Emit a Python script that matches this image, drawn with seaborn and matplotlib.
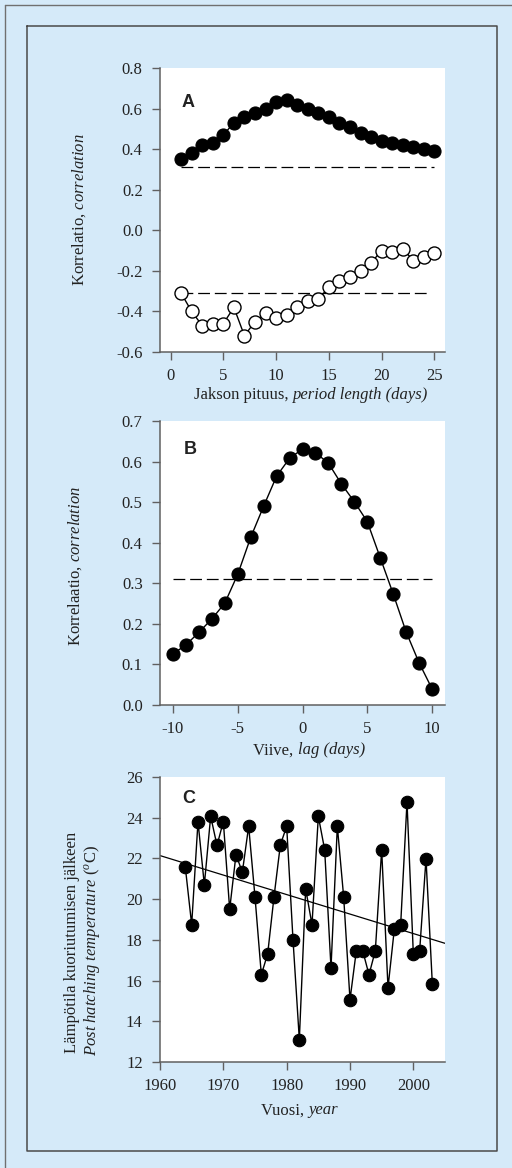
import matplotlib
matplotlib.use("Agg")
import matplotlib.pyplot as plt
import seaborn as sns
from matplotlib.lines import Line2D
from matplotlib.offsetbox import TextArea, HPacker, AnnotationBbox

# ---------------- data ----------------
period_days = list(range(1, 26))
corr_positive = [0.35, 0.38, 0.42, 0.43, 0.47, 0.53, 0.56, 0.58, 0.60, 0.63,
                 0.64, 0.62, 0.60, 0.58, 0.56, 0.53, 0.51, 0.48, 0.46, 0.44,
                 0.43, 0.42, 0.41, 0.40, 0.39]
corr_negative = [-0.31, -0.40, -0.47, -0.46, -0.46, -0.38, -0.52, -0.45, -0.41, -0.43,
                 -0.42, -0.38, -0.35, -0.34, -0.28, -0.25, -0.23, -0.20, -0.16, -0.10,
                 -0.105, -0.09, -0.15, -0.13, -0.11]
sig_level = 0.31
sig_range_a_upper = [1, 25]
sig_range_a_lower = [1, 24.4]

lag_days = list(range(-10, 11))
corr_lag = [0.126, 0.148, 0.179, 0.212, 0.251, 0.322, 0.413, 0.490, 0.564, 0.608,
            0.631, 0.622, 0.596, 0.545, 0.501, 0.452, 0.363, 0.274, 0.180, 0.104, 0.040]
sig_range_b = [-10, 10]

years = list(range(1964, 2004))
temperature = [21.56, 18.75, 23.81, 20.70, 24.07, 22.64, 23.81, 19.50, 22.19, 21.32,
               23.58, 20.11, 16.29, 17.31, 20.11, 22.66, 23.58, 18.01, 13.10, 20.50,
               18.75, 24.07, 22.43, 16.62, 23.58, 20.11, 15.06, 17.47, 17.47, 16.29,
               17.47, 22.43, 15.65, 18.53, 18.75, 24.77, 17.31, 17.47, 21.99, 15.83]
trend_years = [1960, 2005]
trend_temp = [22.14, 17.83]

ticks_a_x = [0, 5, 10, 15, 20, 25]
ticks_a_y = [-0.6, -0.4, -0.2, 0.0, 0.2, 0.4, 0.6, 0.8]
ticks_b_x = [-10, -5, 0, 5, 10]
ticks_b_y = [0.0, 0.1, 0.2, 0.3, 0.4, 0.5, 0.6, 0.7]
ticks_c_x = [1960, 1970, 1980, 1990, 2000]
ticks_c_y = [12, 14, 16, 18, 20, 22, 24, 26]

# ---------------- style ----------------
sns.set_theme(style="ticks")
BG = "#d5eaf9"
SPINE = "#606060"
TXT = "#222222"
FS = 12
plt.rcParams.update({
    "font.family": ["Liberation Serif", "DejaVu Serif"],
    "mathtext.fontset": "custom",
    "mathtext.rm": "Liberation Serif",
    "mathtext.it": "Liberation Serif:italic",
    "mathtext.bf": "Liberation Serif:bold",
    "axes.unicode_minus": False,
    "lines.scale_dashes": False,
    "font.size": FS,
    "xtick.labelsize": FS,
    "ytick.labelsize": FS,
    "axes.labelsize": FS,
    "text.color": TXT,
    "axes.labelcolor": TXT,
    "xtick.color": SPINE,
    "ytick.color": SPINE,
    "xtick.labelcolor": TXT,
    "ytick.labelcolor": TXT,
})

W, H = 512, 1168
fig = plt.figure(figsize=(W / 100, H / 100), dpi=100, facecolor=BG)


def px_x(v):
    return v / W


def px_y(v):
    return 1 - v / H


# frames
fig.add_artist(Line2D([px_x(5), px_x(5)], [0, px_y(5)], color="#707070", lw=1.0))
fig.add_artist(Line2D([px_x(5), 1], [px_y(5), px_y(5)], color="#707070", lw=1.0))
fig.add_artist(Line2D([px_x(26.5), px_x(497), px_x(497), px_x(26.5), px_x(26.5)],
                      [px_y(26), px_y(26), px_y(1151), px_y(1151), px_y(26)],
                      color="#4a4a4a", lw=1.1))

left, width = 160 / W, 285 / W
axA = fig.add_axes([left, 1 - 352 / H, width, 284 / H])
axB = fig.add_axes([left, 1 - 705 / H, width, 284 / H])
axC = fig.add_axes([left, 1 - 1062 / H, width, 285 / H])

dash = (0, (8.5, 3.5))
msz = 9.4


def mixed_xlabel(ax, plain, italic, x, y):
    t1 = TextArea(plain, textprops=dict(fontsize=FS, color=TXT, family="Liberation Serif"))
    t2 = TextArea(italic, textprops=dict(fontsize=FS, color=TXT, family="Liberation Serif",
                                         style="italic"))
    box = HPacker(children=[t1, t2], align="baseline", pad=0, sep=0)
    ab = AnnotationBbox(box, (x, y), xycoords=ax.transAxes, frameon=False,
                        box_alignment=(0.5, 0.5), pad=0, annotation_clip=False)
    ax.add_artist(ab)


# ---- Panel A ----
sns.lineplot(x=sig_range_a_upper, y=[sig_level] * 2, ax=axA, color="black",
             linewidth=0.9, linestyle=dash)
sns.lineplot(x=sig_range_a_lower, y=[-sig_level] * 2, ax=axA, color="black",
             linewidth=0.9, linestyle=dash)
sns.lineplot(x=period_days, y=corr_positive, ax=axA, color="black", linewidth=1.0,
             marker="o", markersize=msz, markerfacecolor="black",
             markeredgecolor="black", markeredgewidth=0.8)
sns.lineplot(x=period_days, y=corr_negative, ax=axA, color="black", linewidth=1.0,
             marker="o", markersize=msz, markerfacecolor="white",
             markeredgecolor="black", markeredgewidth=1.0)
axA.set_xlim(-1, 26)
axA.set_ylim(-0.6, 0.8)
axA.set_xticks(ticks_a_x)
axA.set_yticks(ticks_a_y)
axA.set_yticklabels([f"{t:.1f}" for t in ticks_a_y])
axA.set_xlabel("")
axA.set_ylabel(r"Korrelatio, $\mathit{correlation}$")
axA.yaxis.set_label_coords(-0.253, 0.5)
mixed_xlabel(axA, "Jakson pituus, ", "period length (days)", 0.53, -0.153)
axA.text(0.098, 0.88, "A", transform=axA.transAxes, ha="center", va="center",
         fontsize=13, fontweight="bold", family="Liberation Sans", color=TXT)

# ---- Panel B ----
sns.lineplot(x=sig_range_b, y=[sig_level] * 2, ax=axB, color="black",
             linewidth=0.9, linestyle=dash)
sns.lineplot(x=lag_days, y=corr_lag, ax=axB, color="black", linewidth=1.0,
             marker="o", markersize=msz, markerfacecolor="black",
             markeredgecolor="black", markeredgewidth=0.8)
axB.set_xlim(-11, 11)
axB.set_ylim(0.0, 0.7)
axB.set_xticks(ticks_b_x)
axB.set_xticklabels([str(t) for t in ticks_b_x])
axB.set_yticks(ticks_b_y)
axB.set_yticklabels([f"{t:.1f}" for t in ticks_b_y])
axB.set_xlabel("")
axB.set_ylabel(r"Korrelaatio, $\mathit{correlation}$")
axB.yaxis.set_label_coords(-0.267, 0.49)
mixed_xlabel(axB, "Viive, ", "lag (days)", 0.523, -0.16)
axB.text(0.105, 0.90, "B", transform=axB.transAxes, ha="center", va="center",
         fontsize=13, fontweight="bold", family="Liberation Sans", color=TXT)

# ---- Panel C ----
sns.lineplot(x=trend_years, y=trend_temp, ax=axC, color="black", linewidth=0.9)
sns.lineplot(x=years, y=temperature, ax=axC, color="black", linewidth=1.0,
             marker="o", markersize=9.0, markerfacecolor="black",
             markeredgecolor="black", markeredgewidth=0.8)
axC.set_xlim(1960, 2005)
axC.set_ylim(12, 26)
axC.set_xticks(ticks_c_x)
axC.set_yticks(ticks_c_y)
axC.set_xlabel("")
axC.set_ylabel("")
mixed_xlabel(axC, "Vuosi, ", "year", 0.49, -0.17)
axC.text(-0.309, 0.418, "Lämpötila kuoriutumisen jälkeen", transform=axC.transAxes,
         rotation=90, ha="center", va="center", fontsize=FS)
axC.text(-0.239, 0.393, r"$\mathit{Post\ hatching\ temperature}$ ($^{o}$C)",
         transform=axC.transAxes, rotation=90, ha="center", va="center", fontsize=FS)
axC.text(0.10, 0.926, "C", transform=axC.transAxes, ha="center", va="center",
         fontsize=13, fontweight="bold", family="Liberation Sans", color=TXT)

for ax in (axA, axB, axC):
    ax.set_facecolor("white")
    for s in ("top", "right"):
        ax.spines[s].set_visible(False)
    for s in ("left", "bottom"):
        ax.spines[s].set_color(SPINE)
        ax.spines[s].set_linewidth(1.1)
    ax.tick_params(axis="both", direction="out", length=5.5, width=1.0)
    ax.tick_params(axis="x", pad=6)
    ax.tick_params(axis="y", pad=7)
    if ax.get_legend() is not None:
        ax.get_legend().remove()

fig.savefig("out.png", dpi=100, facecolor=BG)
